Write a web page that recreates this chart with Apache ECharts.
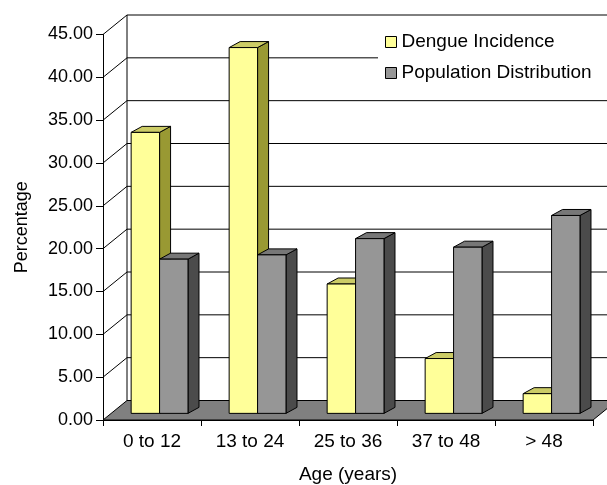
<!DOCTYPE html>
<html>
<head>
<meta charset="utf-8">
<script src="https://cdn.jsdelivr.net/npm/echarts@6/dist/echarts.min.js"></script>
<style>
  html, body { margin: 0; padding: 0; background: #fff; }
  #chart { width: 607px; height: 485px; }
</style>
</head>
<body>
<div id="chart"></div>
<script>
// Age groups and percentages
const categories = ['0 to 12', '13 to 24', '25 to 36', '37 to 48', '> 48'];
const dengueIncidence = [32.8, 42.7, 15.1, 6.4, 2.3];
const populationDistribution = [18.0, 18.5, 20.4, 19.4, 23.1];
const yTicks = [0, 5, 10, 15, 20, 25, 30, 35, 40, 45];

// Oblique depth of the walls/floor and of the columns (pixels)
const WALL_DX = 24, WALL_DY = -19.5;
const COL_DEPTH_POS = 0.34;          // columns stand this far back on the floor
const COL_DX = 11, COL_DY = -6;      // column thickness in depth
const FONT = '"Liberation Sans", Arial, sans-serif';

const palettes = {
  dengue: { front: '#FFFF99', side: '#999933', top: '#CCCC66' },
  pop:    { front: '#969696', side: '#4B4B4B', top: '#777777' }
};

function frameItem(params, api) {
  const cs = params.coordSys;
  const v = api.value(1);
  const p = api.coord([0, v]);
  const x0 = cs.x, y = p[1];
  const bx = x0 + WALL_DX, by = y + WALL_DY;
  const right = cs.x + cs.width + WALL_DX;
  const lineStyle = { stroke: '#000', lineWidth: 1, fill: null };
  const children = [];
  if (params.dataIndex === 0) {
    // floor
    children.push({
      type: 'polygon',
      shape: { points: [[x0, y], [cs.x + cs.width, y], [right, by], [bx, by]] },
      style: { fill: '#808080', stroke: '#000', lineWidth: 1 }
    });
    // back wall left edge
    const topY = api.coord([0, yTicks[yTicks.length - 1]])[1] + WALL_DY;
    children.push({ type: 'line', shape: { x1: bx, y1: by, x2: bx, y2: topY }, style: lineStyle });
  } else {
    children.push({ type: 'line', shape: { x1: x0, y1: y, x2: bx, y2: by }, style: lineStyle });
    children.push({ type: 'line', shape: { x1: bx, y1: by, x2: right, y2: by }, style: lineStyle });
  }
  return { type: 'group', children };
}

function columnRenderer(pal, offsetFrac) {
  return function (params, api) {
    const i = api.value(0), v = api.value(1);
    const top = api.coord([i, v]);
    const base = api.coord([i, 0]);
    const band = api.size([1, 0])[0];
    const w = band * 0.29;
    const sx = WALL_DX * COL_DEPTH_POS, sy = WALL_DY * COL_DEPTH_POS;
    const x0 = base[0] + band * offsetFrac + sx;
    const x1 = x0 + w;
    const yt = top[1] + sy, yb = base[1] + sy;
    const st = { stroke: '#000', lineWidth: 1, lineJoin: 'miter' };
    return {
      type: 'group',
      children: [
        { type: 'polygon', shape: { points: [[x1, yt], [x1 + COL_DX, yt + COL_DY], [x1 + COL_DX, yb + COL_DY], [x1, yb]] },
          style: Object.assign({ fill: pal.side }, st) },
        { type: 'polygon', shape: { points: [[x0, yt], [x0 + COL_DX, yt + COL_DY], [x1 + COL_DX, yt + COL_DY], [x1, yt]] },
          style: Object.assign({ fill: pal.top }, st) },
        { type: 'rect', shape: { x: x0, y: yt, width: w, height: yb - yt },
          style: Object.assign({ fill: pal.front }, st) }
      ]
    };
  };
}

const chart = echarts.init(document.getElementById('chart'), null, { renderer: 'canvas' });
chart.setOption({
  animation: false,
  backgroundColor: '#fff',
  grid: { left: 103, right: 14, top: 34.5, bottom: 65, containLabel: false, outerBoundsMode: 'none' },
  legend: {
    orient: 'vertical',
    left: 378, top: 16,
    padding: [16, 40, 17, 7],
    backgroundColor: '#fff',
    itemWidth: 11, itemHeight: 11, itemGap: 11,
    icon: 'rect',
    textStyle: { fontFamily: FONT, fontSize: 19, color: '#000', lineHeight: 20 },
    data: [
      { name: 'Dengue Incidence', itemStyle: { color: palettes.dengue.front, borderColor: '#000', borderWidth: 1 } },
      { name: 'Population Distribution', itemStyle: { color: palettes.pop.front, borderColor: '#000', borderWidth: 1 } }
    ]
  },
  xAxis: {
    type: 'category',
    data: categories,
    boundaryGap: true,
    name: 'Age (years)',
    nameLocation: 'middle',
    nameGap: 45,
    nameTextStyle: { fontFamily: FONT, fontSize: 19, color: '#000' },
    axisLine: { show: true, lineStyle: { color: '#000', width: 1 } },
    axisTick: { show: true, length: 6, lineStyle: { color: '#000' } },
    axisLabel: { fontFamily: FONT, fontSize: 19, color: '#000', margin: 12 },
    splitLine: { show: false }
  },
  yAxis: {
    type: 'value',
    min: 0, max: 45, interval: 5,
    name: 'Percentage',
    nameLocation: 'middle',
    nameGap: 72,
    nameTextStyle: { fontFamily: FONT, fontSize: 18, color: '#000' },
    axisLine: { show: true, lineStyle: { color: '#000', width: 1 } },
    axisTick: { show: true, length: 7, lineStyle: { color: '#000' } },
    axisLabel: { fontFamily: FONT, fontSize: 18, color: '#000', margin: 10,
      formatter: v => v.toFixed(2) },
    splitLine: { show: false }
  },
  series: [
    {
      type: 'custom',
      name: 'frame',
      z: 1,
      silent: true,
      renderItem: frameItem,
      data: yTicks.map(v => [0, v]),
      encode: { x: 0, y: 1 }
    },
    {
      type: 'custom',
      name: 'Dengue Incidence',
      z: 2,
      itemStyle: { color: palettes.dengue.front },
      renderItem: columnRenderer(palettes.dengue, -0.296),
      data: dengueIncidence.map((v, i) => [i, v]),
      encode: { x: 0, y: 1 }
    },
    {
      type: 'custom',
      name: 'Population Distribution',
      z: 3,
      itemStyle: { color: palettes.pop.front },
      renderItem: columnRenderer(palettes.pop, -0.006),
      data: populationDistribution.map((v, i) => [i, v]),
      encode: { x: 0, y: 1 }
    }
  ]
});
</script>
</body>
</html>
